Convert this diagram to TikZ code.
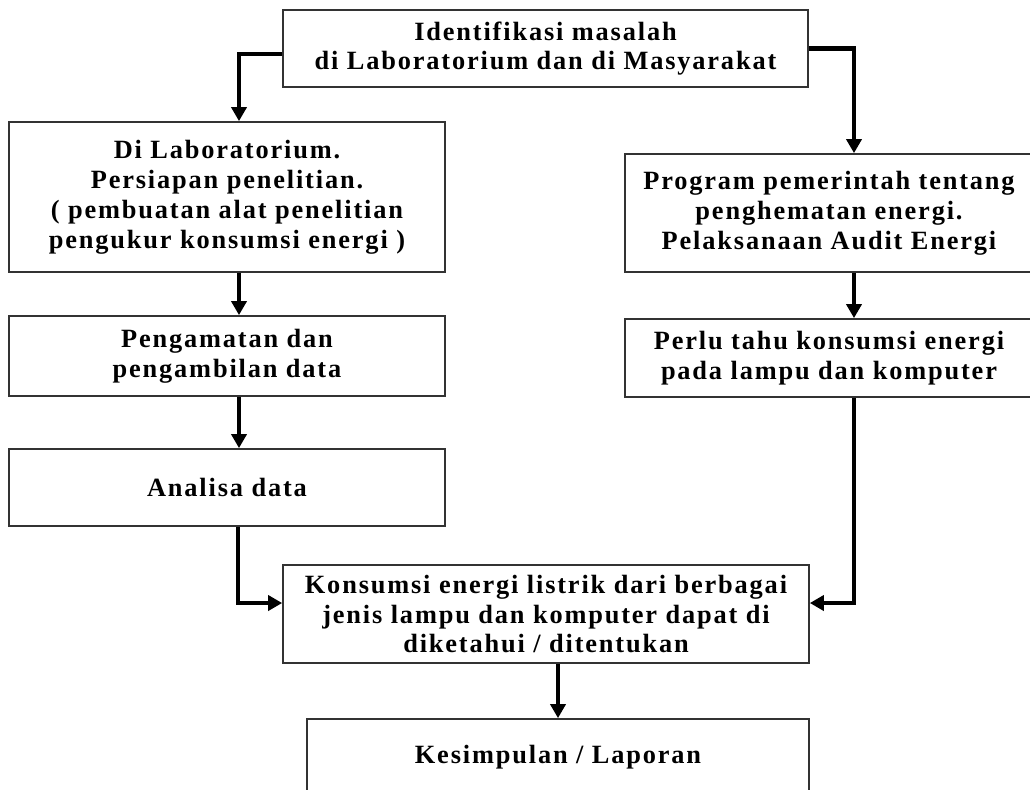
\documentclass[tikz,border=0pt]{standalone}
\usepackage{fontspec}
\setmainfont{Liberation Serif}[LetterSpace=7]
\usetikzlibrary{arrows.meta,positioning}

\begin{document}
\begin{tikzpicture}[x=0.02cm,y=-0.02cm,
        kotak/.style={draw=black!80,line width=1pt,align=center,inner sep=0pt,
            font=\bfseries\fontsize{15}{17}\selectfont},
        panah/.style={line width=2.8pt,-{Triangle[length=0.28cm,width=0.3cm]}}]
        % frame of the picture
        \useasboundingbox (0,0) rectangle (1030,789);
        % top box
        \node[kotak,minimum width=10.5cm,minimum height=1.54cm] (idn) at (545.5,48.5)
            {Identifikasi masalah\\ di Laboratorium dan di Masyarakat};
        % left column
        \node[kotak,minimum width=8.72cm,minimum height=3cm] (lab) at (227,197)
            {Di Laboratorium.\\ Persiapan penelitian.\\ ( pembuatan alat penelitian\\ pengukur konsumsi energi )};
        \node[kotak,minimum width=8.72cm,minimum height=1.6cm] (obs) at (227,356)
            {Pengamatan dan\\ pengambilan data};
        \node[kotak,minimum width=8.72cm,minimum height=1.54cm] (ana) at (227,487.5)
            {Analisa data};
        % right column
        \node[kotak,minimum width=8.16cm,minimum height=2.36cm] (prog) at (829,213)
            {Program pemerintah tentang\\ penghematan energi.\\ Pelaksanaan Audit Energi};
        \node[kotak,minimum width=8.16cm,minimum height=1.56cm] (need) at (829,358)
            {Perlu tahu konsumsi energi\\ pada lampu dan komputer};
        % result and conclusion
        \node[kotak,minimum width=10.52cm,minimum height=1.96cm] (kon) at (546,614)
            {Konsumsi energi listrik dari berbagai\\ jenis lampu dan komputer dapat di\\ diketahui / ditentukan};
        \node[kotak,minimum width=10.04cm,minimum height=1.52cm] (kes) at (558,757)
            {Kesimpulan / Laporan};
        % arrows
        \draw[panah] ([yshift=-0.11cm]idn.west) -| ([xshift=0.24cm]lab.north);
        \draw[panah] (idn.east) -| ([xshift=0.5cm]prog.north);
        \draw[panah] ([xshift=0.24cm]lab.south) -- ([xshift=0.24cm]obs.north);
        \draw[panah] ([xshift=0.24cm]obs.south) -- ([xshift=0.24cm]ana.north);
        \draw[panah] ([xshift=0.5cm]prog.south) -- ([xshift=0.5cm]need.north);
        \draw[panah] ([xshift=0.22cm]ana.south) |- ([yshift=0.22cm]kon.west);
        \draw[panah] ([xshift=0.5cm]need.south) |- ([yshift=0.22cm]kon.east);
        \draw[panah] (kes.north |- kon.south) -- (kes.north);
\end{tikzpicture}
\end{document}
